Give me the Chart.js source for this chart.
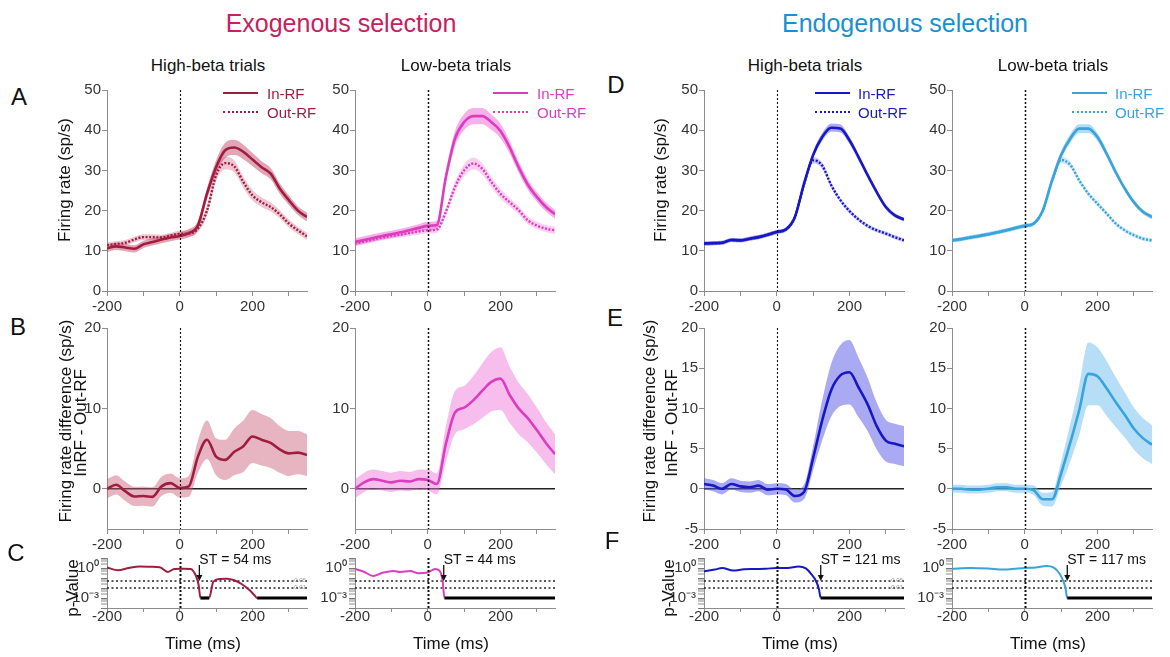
<!DOCTYPE html>
<html>
<head>
<meta charset="utf-8">
<title>Firing rates by beta state</title>
<script src="https://cdn.jsdelivr.net/npm/chart.js@4.4.1/dist/chart.umd.min.js"></script>
<style>
  html, body { margin: 0; padding: 0; background: #fff; }
  body { position: relative; width: 1170px; height: 657px; overflow: hidden; font-family: "Liberation Sans", Arial, sans-serif; color: #111; }
  canvas { position: absolute; }
  .lbl { position: absolute; white-space: nowrap; line-height: 1; transform: translate(-50%, -50%); }
  .lbl.rot { transform: translate(-50%, -50%) rotate(-90deg); }
  .key { position: absolute; width: 35px; height: 0; }
  .keytxt { position: absolute; white-space: nowrap; font-size: 15px; line-height: 1; transform: translateY(-50%); }
</style>
</head>
<body>
<script>
Chart.defaults.font.family = '"Liberation Sans", Arial, sans-serif';
Chart.defaults.color = '#333';

// time base (ms from stimulus onset)
const times = [-200, -175, -150, -125, -100, -75, -50, -25, 0, 25, 50, 75, 100, 125, 150, 175, 200, 225, 250, 275, 300, 325, 350];

// exogenous selection, high-beta trials
const exoHighIn = [10.6, 11.1, 10.8, 10.5, 11.6, 12.2, 12.8, 13.3, 13.7, 14.4, 16.3, 24.2, 30.8, 35.0, 35.7, 34.6, 32.7, 30.8, 29.2, 25.5, 22.6, 20.0, 18.4];
const exoHighInSem = [0.9, 0.9, 0.9, 0.9, 0.9, 0.9, 0.9, 0.9, 0.9, 1.0, 1.1, 1.4, 1.7, 1.9, 1.9, 1.8, 1.6, 1.5, 1.4, 1.3, 1.2, 1.1, 1.1];
const exoHighOut = [11.4, 11.7, 12.0, 12.8, 13.4, 13.4, 13.3, 13.8, 14.2, 14.3, 15.5, 20.0, 28.8, 31.8, 31.0, 27.1, 23.8, 22.1, 20.9, 19.1, 16.8, 15.1, 13.6];
const exoHighOutSem = [0.7, 0.7, 0.7, 0.7, 0.7, 0.7, 0.7, 0.7, 0.8, 0.8, 0.9, 1.2, 1.5, 1.6, 1.5, 1.4, 1.3, 1.2, 1.1, 1.0, 1.0, 0.9, 0.9];
const exoHighDiff = [0.0, 0.5, -0.3, -0.95, -0.9, -1.0, 0.3, 0.7, 0.1, 0.3, 4.0, 6.1, 4.0, 3.6, 4.6, 5.3, 6.5, 6.1, 5.7, 4.9, 4.4, 4.5, 4.2];
const exoHighDiffSem = [1.2, 1.2, 1.2, 1.2, 1.2, 1.2, 1.2, 1.2, 1.2, 1.3, 2.0, 2.4, 2.3, 2.5, 2.9, 3.2, 3.3, 3.2, 3.1, 2.9, 2.8, 2.7, 2.6];
const exoHighPTimes = [-200, -170, -140, -110, -80, -55, -33, -15, 10, 30, 45, 52, 57, 81, 92, 110, 130, 150, 170, 190, 205, 213, 350];
const exoHighP = [1.1, 0.6, 1.0, 1.4, 1.35, 1.2, 0.4, 0.8, 0.85, 0.8, 0.15, 0.02, 0.001, 0.001, 0.04, 0.08, 0.085, 0.06, 0.025, 0.007, 0.002, 0.001, 0.001];

// exogenous selection, low-beta trials
const exoLowIn = [12.2, 12.7, 13.2, 13.7, 14.1, 14.6, 15.1, 15.7, 16.2, 16.4, 28.4, 37.9, 42.0, 43.5, 43.5, 42.0, 39.8, 35.8, 30.8, 26.5, 23.4, 20.9, 19.1];
const exoLowInSem = [0.9, 0.9, 0.9, 0.9, 0.9, 0.9, 0.9, 0.9, 1.0, 1.0, 1.5, 1.9, 2.0, 2.0, 2.0, 1.9, 1.8, 1.6, 1.4, 1.3, 1.2, 1.1, 1.1];
const exoLowOut = [11.8, 12.3, 12.8, 13.3, 13.7, 14.0, 14.4, 14.8, 15.1, 15.3, 19.7, 25.9, 30.0, 31.7, 30.4, 27.1, 24.2, 22.1, 20.1, 17.6, 16.3, 15.5, 15.1];
const exoLowOutSem = [0.7, 0.7, 0.7, 0.7, 0.7, 0.7, 0.7, 0.8, 0.8, 0.8, 1.0, 1.3, 1.5, 1.5, 1.4, 1.3, 1.2, 1.1, 1.0, 1.0, 0.9, 0.9, 0.9];
const exoLowDiff = [0.0, 0.8, 1.2, 1.0, 0.8, 1.0, 0.9, 1.2, 1.1, 0.6, 5.6, 9.5, 10.1, 11.0, 12.2, 13.3, 13.7, 11.7, 10.0, 8.8, 7.3, 5.7, 4.3];
const exoLowDiffSem = [1.2, 1.2, 1.2, 1.2, 1.2, 1.2, 1.2, 1.2, 1.3, 1.3, 2.2, 2.7, 2.7, 3.0, 3.4, 3.7, 3.9, 3.5, 3.2, 3.0, 2.8, 2.6, 2.5];
const exoLowPTimes = [-200, -177, -150, -122, -94, -76, -48, -26, 0, 20, 34, 41, 46, 350];
const exoLowP = [0.8, 0.45, 0.16, 0.35, 0.5, 0.4, 0.5, 0.3, 0.35, 0.8, 0.45, 0.05, 0.001, 0.001];

// endogenous selection, high-beta trials
const endoHighIn = [11.8, 11.9, 12.0, 12.7, 12.6, 13.0, 13.4, 14.0, 14.7, 15.3, 18.4, 26.7, 33.8, 38.3, 40.6, 40.4, 37.5, 33.3, 28.8, 24.6, 20.9, 18.8, 17.8];
const endoHighInSem = [0.5, 0.5, 0.5, 0.5, 0.5, 0.5, 0.5, 0.5, 0.5, 0.5, 0.6, 0.8, 0.9, 1.0, 1.0, 1.0, 0.9, 0.8, 0.7, 0.6, 0.6, 0.5, 0.5];
const endoHighOut = [11.8, 11.9, 12.0, 12.7, 12.6, 13.0, 13.4, 14.0, 14.7, 15.3, 18.4, 26.5, 32.5, 31.2, 26.3, 22.6, 19.9, 17.8, 16.2, 15.1, 14.3, 13.4, 12.6];
const endoHighOutSem = [0.5, 0.5, 0.5, 0.5, 0.5, 0.5, 0.5, 0.5, 0.5, 0.5, 0.6, 0.7, 0.8, 0.8, 0.7, 0.6, 0.6, 0.5, 0.5, 0.5, 0.5, 0.5, 0.5];
const endoHighDiff = [0.6, 0.4, 0.0, 0.6, 0.3, 0.2, 0.4, -0.1, 0.0, -0.1, -0.9, -0.4, 3.8, 8.5, 12.3, 14.1, 14.5, 12.6, 10.5, 7.8, 6.0, 5.6, 5.3];
const endoHighDiffSem = [0.7, 0.7, 0.7, 0.7, 0.7, 0.7, 0.7, 0.7, 0.7, 0.7, 0.8, 0.9, 1.5, 2.5, 3.3, 3.8, 4.0, 3.7, 3.3, 2.9, 2.6, 2.5, 2.5];
const endoHighPTimes = [-200, -170, -150, -120, -90, -60, -30, 0, 30, 60, 80, 95, 108, 116, 121, 350];
const endoHighP = [0.45, 0.7, 1.0, 0.55, 0.75, 0.8, 0.85, 1.0, 1.0, 1.4, 0.9, 0.25, 0.05, 0.008, 0.001, 0.001];

// endogenous selection, low-beta trials
const endoLowIn = [12.6, 12.9, 13.3, 13.7, 14.1, 14.6, 15.1, 15.7, 16.2, 16.8, 20.1, 27.5, 33.8, 37.9, 40.4, 40.4, 38.3, 34.2, 29.6, 25.5, 22.1, 19.7, 18.4];
const endoLowInSem = [0.5, 0.5, 0.5, 0.5, 0.5, 0.5, 0.5, 0.5, 0.5, 0.5, 0.6, 0.8, 1.0, 1.1, 1.1, 1.1, 1.0, 0.9, 0.8, 0.7, 0.6, 0.6, 0.6];
const endoLowOut = [12.6, 12.9, 13.3, 13.7, 14.1, 14.6, 15.1, 15.7, 16.2, 16.8, 20.1, 27.2, 32.6, 31.4, 27.5, 24.2, 21.7, 19.3, 16.8, 15.1, 13.9, 13.0, 12.6];
const endoLowOutSem = [0.5, 0.5, 0.5, 0.5, 0.5, 0.5, 0.5, 0.5, 0.5, 0.5, 0.6, 0.7, 0.8, 0.8, 0.7, 0.6, 0.6, 0.5, 0.5, 0.5, 0.5, 0.5, 0.5];
const endoLowDiff = [0.0, 0.0, -0.1, -0.1, 0.0, 0.2, 0.2, 0.0, 0.0, -0.2, -1.3, -1.3, 1.9, 5.7, 9.8, 14.3, 14.0, 12.5, 10.8, 9.2, 7.5, 6.3, 5.5];
const endoLowDiffSem = [0.5, 0.5, 0.5, 0.5, 0.5, 0.5, 0.5, 0.5, 0.5, 0.6, 0.8, 0.9, 1.5, 2.3, 3.1, 3.9, 3.6, 3.4, 3.1, 2.8, 2.6, 2.5, 2.4];
const endoLowPTimes = [-200, -150, -100, -60, -20, 0, 30, 60, 80, 95, 105, 112, 117, 350];
const endoLowP = [0.85, 1.0, 0.9, 0.7, 0.9, 1.0, 1.1, 1.6, 1.1, 0.3, 0.06, 0.01, 0.001, 0.001];

// selection times (ms)
const stValues = [54, 44, 121, 117];

// axis ticks
const xTicks = [-200, -100, 0, 100, 200, 300];
const rateTicks = [0, 10, 20, 30, 40, 50];
const diffTicksExo = [0, 10, 20];
const diffTicksEndo = [-5, 0, 5, 10, 15, 20];
const pThresholds = [0.05, 0.01];
const P_FLOOR = 0.001;

const columnTitles = ['High-beta trials', 'Low-beta trials', 'High-beta trials', 'Low-beta trials'];

const conditions = [
  { inMean: exoHighIn, inSem: exoHighInSem, outMean: exoHighOut, outSem: exoHighOutSem, diff: exoHighDiff, diffSem: exoHighDiffSem,
    pTimes: exoHighPTimes, p: exoHighP, st: stValues[0], diffTicks: diffTicksExo, pLabels: true,
    color: '#a01d40', fillIn: 'rgba(196, 78, 110, 0.5)', fillOut: 'rgba(205, 95, 125, 0.35)', fillDiff: 'rgba(200, 90, 118, 0.45)' },
  { inMean: exoLowIn, inSem: exoLowInSem, outMean: exoLowOut, outSem: exoLowOutSem, diff: exoLowDiff, diffSem: exoLowDiffSem,
    pTimes: exoLowPTimes, p: exoLowP, st: stValues[1], diffTicks: diffTicksExo, pLabels: false,
    color: '#de3cbf', fillIn: 'rgba(236, 100, 210, 0.5)', fillOut: 'rgba(238, 120, 215, 0.35)', fillDiff: 'rgba(238, 110, 215, 0.45)' },
  { inMean: endoHighIn, inSem: endoHighInSem, outMean: endoHighOut, outSem: endoHighOutSem, diff: endoHighDiff, diffSem: endoHighDiffSem,
    pTimes: endoHighPTimes, p: endoHighP, st: stValues[2], diffTicks: diffTicksEndo, pLabels: true,
    color: '#1717c6', fillIn: 'rgba(90, 90, 230, 0.5)', fillOut: 'rgba(100, 100, 235, 0.35)', fillDiff: 'rgba(85, 85, 230, 0.5)' },
  { inMean: endoLowIn, inSem: endoLowInSem, outMean: endoLowOut, outSem: endoLowOutSem, diff: endoLowDiff, diffSem: endoLowDiffSem,
    pTimes: endoLowPTimes, p: endoLowP, st: stValues[3], diffTicks: diffTicksEndo, pLabels: false,
    color: '#38a3dc', fillIn: 'rgba(100, 185, 235, 0.5)', fillOut: 'rgba(110, 190, 238, 0.35)', fillDiff: 'rgba(110, 190, 238, 0.5)' }
];

// panel geometry
const AXIS_W = 50, PAD = 12, X_AXIS_H = 28, PLOT_W = 200;
const AXIS_GRAY = '#8c8c8c';
const colLeft = [107, 355, 704, 952];
const rowRate = { top: 90, h: 201 };
const rowDiff = { top: 328, h: 201 };
const rowP = { top: 558, h: 50 };

const pts = (ts, vals) => ts.map((t, i) => ({ x: t, y: vals[i] }));
const offset = (vals, sem, sign) => vals.map((v, i) => v + sign * sem[i]);

function lineSet(ts, vals, color, dotted) {
  return {
    data: pts(ts, vals), borderColor: color, borderWidth: dotted ? 2.4 : 2.6,
    borderDash: dotted ? [2, 1.6] : [], fill: false, order: 0
  };
}

function bandSets(vals, sem, fillColor) {
  return [
    { data: pts(times, offset(vals, sem, 1)), borderWidth: 0, borderColor: 'transparent', backgroundColor: fillColor, fill: '+1', order: 1 },
    { data: pts(times, offset(vals, sem, -1)), borderWidth: 0, borderColor: 'transparent', fill: false, order: 1 }
  ];
}

// zero line, stimulus onset, significance thresholds and ST marker
const refLines = {
  id: 'refLines',
  beforeDatasetsDraw(chart, args, o) {
    const { ctx, chartArea: a, scales: { y } } = chart;
    ctx.save();
    if (o.zero) {
      const y0 = y.getPixelForValue(0);
      ctx.strokeStyle = '#222';
      ctx.lineWidth = 1.6;
      ctx.beginPath(); ctx.moveTo(a.left, y0); ctx.lineTo(a.right, y0); ctx.stroke();
    }
    if (o.thresholds) {
      ctx.setLineDash([2, 2.5]);
      ctx.strokeStyle = '#222';
      ctx.lineWidth = 1.5;
      o.thresholds.forEach(p => {
        const yy = y.getPixelForValue(p);
        ctx.beginPath(); ctx.moveTo(a.left, yy); ctx.lineTo(a.right, yy); ctx.stroke();
      });
      ctx.setLineDash([]);
      if (o.threshLabels) {
        ctx.font = '6px "Liberation Sans", Arial, sans-serif';
        ctx.fillStyle = '#999';
        ctx.textAlign = 'right';
        ctx.textBaseline = 'middle';
        o.thresholds.forEach(p => ctx.fillText(String(p), a.right - 1, y.getPixelForValue(p) - 1));
      }
    }
    ctx.restore();
  },
  afterDatasetsDraw(chart, args, o) {
    const { ctx, chartArea: a, scales: { x, y } } = chart;
    ctx.save();
    const x0 = Math.round(x.getPixelForValue(0)) + 0.5;
    ctx.setLineDash([2, 2]);
    ctx.lineWidth = o.onsetWidth || 1.2;
    ctx.strokeStyle = '#111';
    ctx.beginPath(); ctx.moveTo(x0, a.top); ctx.lineTo(x0, a.bottom); ctx.stroke();
    ctx.setLineDash([]);
    if (o.st != null) {
      const xs = x.getPixelForValue(o.st);
      const tip = y.getPixelForValue(0.05);
      ctx.strokeStyle = '#111';
      ctx.fillStyle = '#111';
      ctx.lineWidth = 1.3;
      ctx.beginPath(); ctx.moveTo(xs, a.top + 7); ctx.lineTo(xs, tip - 5); ctx.stroke();
      ctx.beginPath(); ctx.moveTo(xs - 3, tip - 6); ctx.lineTo(xs + 3, tip - 6); ctx.lineTo(xs, tip); ctx.closePath(); ctx.fill();
      ctx.font = '14px "Liberation Sans", Arial, sans-serif';
      ctx.textAlign = 'left';
      ctx.textBaseline = 'middle';
      ctx.fillText('ST = ' + o.st + ' ms', xs, a.top + 2);
    }
    ctx.restore();
  }
};

function xScale(tickLen, pad) {
  return {
    type: 'linear', min: -200, max: 350,
    afterBuildTicks: s => { s.ticks = xTicks.map(v => ({ value: v })); },
    afterFit: s => { s.height = X_AXIS_H; },
    ticks: { autoSkip: false, maxRotation: 0, padding: pad, color: '#333', font: { size: 15 },
             callback: v => (v % 200 === 0 ? String(v) : '') },
    grid: { drawOnChartArea: false, tickLength: tickLen, color: AXIS_GRAY },
    border: { color: AXIS_GRAY, width: 1 }
  };
}

function yLinear(min, max, tickVals) {
  return {
    type: 'linear', min, max,
    afterBuildTicks: s => { s.ticks = tickVals.map(v => ({ value: v })); },
    afterFit: s => { s.width = AXIS_W; },
    ticks: { autoSkip: false, padding: 1, color: '#333', font: { size: 15 } },
    grid: { drawOnChartArea: false, tickLength: 5, color: AXIS_GRAY },
    border: { color: AXIS_GRAY, width: 1 }
  };
}

const isDecade = v => Math.abs(Math.log10(v) - Math.round(Math.log10(v))) < 1e-9;

function yLog() {
  const vals = [];
  for (let e = -4; e <= 0; e++) for (let m = 1; m <= 9; m++) vals.push(m * Math.pow(10, e));
  vals.push(10);
  return {
    type: 'logarithmic', min: 1e-4, max: 10,
    afterBuildTicks: s => { s.ticks = vals.map(v => ({ value: v })); },
    afterFit: s => { s.width = AXIS_W; },
    ticks: { autoSkip: false, padding: 2, color: '#333', font: { size: 15 },
             callback: v => {
               const l = Math.log10(v);
               if (Math.abs(l) < 1e-9) return '10\u2070';
               if (Math.abs(l + 3) < 1e-9) return '10\u207B\u00B3';
               return '';
             } },
    grid: { drawOnChartArea: false, tickLength: 6, color: c => (c.tick && isDecade(c.tick.value) ? '#777' : '#c4c4c4') },
    border: { color: AXIS_GRAY, width: 1 }
  };
}

function buildPanel(col, row, datasets, yScale, refOpts, xTickLen, xPad) {
  const cv = document.createElement('canvas');
  cv.width = AXIS_W + PLOT_W + PAD;
  cv.height = PAD + row.h + X_AXIS_H;
  cv.style.left = (colLeft[col] - AXIS_W) + 'px';
  cv.style.top = (row.top - PAD) + 'px';
  document.body.appendChild(cv);
  return new Chart(cv, {
    type: 'line',
    data: { datasets },
    options: {
      responsive: false,
      animation: false,
      events: [],
      layout: { padding: { top: PAD, right: PAD, left: 0, bottom: 0 } },
      elements: { point: { radius: 0 }, line: { cubicInterpolationMode: 'monotone' } },
      plugins: { legend: { display: false }, tooltip: { enabled: false }, refLines: refOpts },
      scales: { x: xScale(xTickLen, xPad), y: yScale }
    },
    plugins: [refLines]
  });
}

conditions.forEach((c, col) => {
  // firing rate, In-RF vs Out-RF
  buildPanel(col, rowRate, [
    lineSet(times, c.inMean, c.color, false),
    lineSet(times, c.outMean, c.color, true),
    ...bandSets(c.inMean, c.inSem, c.fillIn),
    ...bandSets(c.outMean, c.outSem, c.fillOut)
  ], yLinear(0, 50, rateTicks), { onsetWidth: col % 2 ? 1.5 : 1.1 }, 5, 2);

  // In-RF minus Out-RF
  buildPanel(col, rowDiff, [
    lineSet(times, c.diff, c.color, false),
    ...bandSets(c.diff, c.diffSem, c.fillDiff)
  ], yLinear(-5, 20, c.diffTicks), { zero: true, onsetWidth: col % 2 ? 1.5 : 1.1 }, 5, 2);

  // p-value over time, floor segments drawn in black
  const atFloor = s => s.p0.parsed.y <= P_FLOOR && s.p1.parsed.y <= P_FLOOR;
  buildPanel(col, rowP, [{
    data: pts(c.pTimes, c.p), borderColor: c.color, borderWidth: 2, fill: false,
    segment: { borderColor: s => (atFloor(s) ? '#000' : undefined), borderWidth: s => (atFloor(s) ? 3.2 : undefined) }
  }], yLog(), { thresholds: pThresholds, threshLabels: c.pLabels, st: c.st, onsetWidth: 2 }, 4, -4);
});

// text around the panels
function addText(text, x, y, size, opts = {}) {
  const d = document.createElement('div');
  d.className = 'lbl' + (opts.rot ? ' rot' : '');
  d.textContent = text;
  d.style.left = x + 'px';
  d.style.top = y + 'px';
  d.style.fontSize = size + 'px';
  if (opts.color) d.style.color = opts.color;
  document.body.appendChild(d);
}

addText('Exogenous selection', 341, 23, 25, { color: '#c6215e' });
addText('Endogenous selection', 905, 23, 25, { color: '#1c8fd0' });

columnTitles.forEach((t, i) => addText(t, colLeft[i] + 101, 65, 17));

[['A', 19, 97], ['B', 18, 327], ['C', 16, 553], ['D', 616, 85], ['E', 615, 318], ['F', 612, 541]]
  .forEach(([t, x, y]) => addText(t, x, y, 24));

addText('Firing rate (sp/s)', 64, 180, 17, { rot: true });
addText('Firing rate (sp/s)', 660, 180, 17, { rot: true });
addText('Firing rate difference (sp/s)', 65, 421, 17, { rot: true });
addText('InRF - Out-RF', 80, 423, 17, { rot: true });
addText('Firing rate difference (sp/s)', 649, 421, 17, { rot: true });
addText('InRF - Out-RF', 671, 423, 17, { rot: true });
addText('p-Value', 72, 588, 17, { rot: true });
addText('p-Value', 668, 588, 17, { rot: true });
colLeft.forEach(l => addText('Time (ms)', l + 96, 643, 17));

// legends
const keyPos = [[223, 267], [493, 537], [815, 858], [1072, 1115]];
conditions.forEach((c, i) => {
  [['In-RF', 93, 'solid', 2.6], ['Out-RF', 112, 'dotted', 2.4]].forEach(([name, y, style, w]) => {
    const k = document.createElement('div');
    k.className = 'key';
    k.style.left = keyPos[i][0] + 'px';
    k.style.top = (y - w / 2) + 'px';
    k.style.borderTop = w + 'px ' + style + ' ' + c.color;
    document.body.appendChild(k);
    const t = document.createElement('div');
    t.className = 'keytxt';
    t.textContent = name;
    t.style.left = keyPos[i][1] + 'px';
    t.style.top = y + 'px';
    t.style.color = c.color;
    document.body.appendChild(t);
  });
});
</script>
</body>
</html>
